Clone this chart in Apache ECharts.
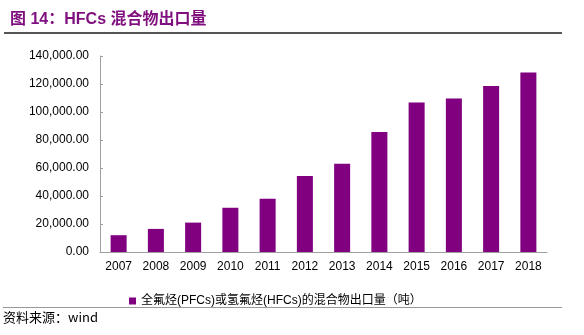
<!DOCTYPE html>
<html><head><meta charset="utf-8">
<script src="https://cdn.jsdelivr.net/npm/echarts@6/dist/echarts.min.js"></script>
<style>html,body{margin:0;padding:0;background:#fff}#c{width:584px;height:335px}</style>
</head><body><div id="c"></div>
<script>
const categories = ['2007','2008','2009','2010','2011','2012','2013','2014','2015','2016','2017','2018'];
const exportVolume = [12000, 16500, 21000, 31600, 38100, 54300, 63000, 85800, 106800, 109700, 118500, 128300];
const seriesName = '全氟烃(PFCs)或氢氟烃(HFCs)的混合物出口量（吨）';
const titleText = '图 14：HFCs 混合物出口量';
const sourceText = '资料来源：wind';

const chart = echarts.init(document.getElementById('c'), null, {renderer:'canvas'});
chart.setOption({
  animation:false,
  title:{text:titleText,left:5,top:7,textStyle:{color:'#7f0f7e',fontSize:16,fontWeight:'bold',fontFamily:'Liberation Sans, Noto Sans CJK SC'}},
  grid:{left:100,right:37,top:56,bottom:83},
  legend:{data:[seriesName],left:124,top:290,icon:'rect',itemWidth:7,itemHeight:7,itemGap:4,
    textStyle:{fontSize:12,color:'#000',fontFamily:'Liberation Sans, Noto Sans CJK SC'}},
  xAxis:{type:'category',data:categories,
    axisLine:{lineStyle:{color:'#a0a0a0',width:1}},
    axisTick:{inside:true,length:3,lineStyle:{color:'#a0a0a0'}},
    axisLabel:{color:'#000',fontSize:12,margin:9,fontFamily:'Liberation Sans'}},
  yAxis:{type:'value',min:0,max:140000,interval:20000,
    axisLine:{show:true,lineStyle:{color:'#a0a0a0'}},
    axisTick:{show:true,inside:true,length:3,lineStyle:{color:'#a0a0a0'}},
    splitLine:{show:false},
    axisLabel:{color:'#000',fontSize:12,margin:11,fontFamily:'Liberation Sans',
      formatter:v=>v.toLocaleString('en-US',{minimumFractionDigits:2,maximumFractionDigits:2})}},
  series:[{name:seriesName,type:'bar',data:exportVolume,barWidth:'43%',itemStyle:{color:'#800080'}}],
  graphic:[
    {type:'line',shape:{x1:4,y1:33,x2:562,y2:33},style:{stroke:'#555',lineWidth:2}},
    {type:'line',shape:{x1:3,y1:307.5,x2:562,y2:307.5},style:{stroke:'#999',lineWidth:1}},
    {type:'text',left:3,top:311,style:{text:sourceText,fontSize:13,fill:'#000',fontFamily:'Noto Sans CJK SC'}}
  ]
});
</script></body></html>
